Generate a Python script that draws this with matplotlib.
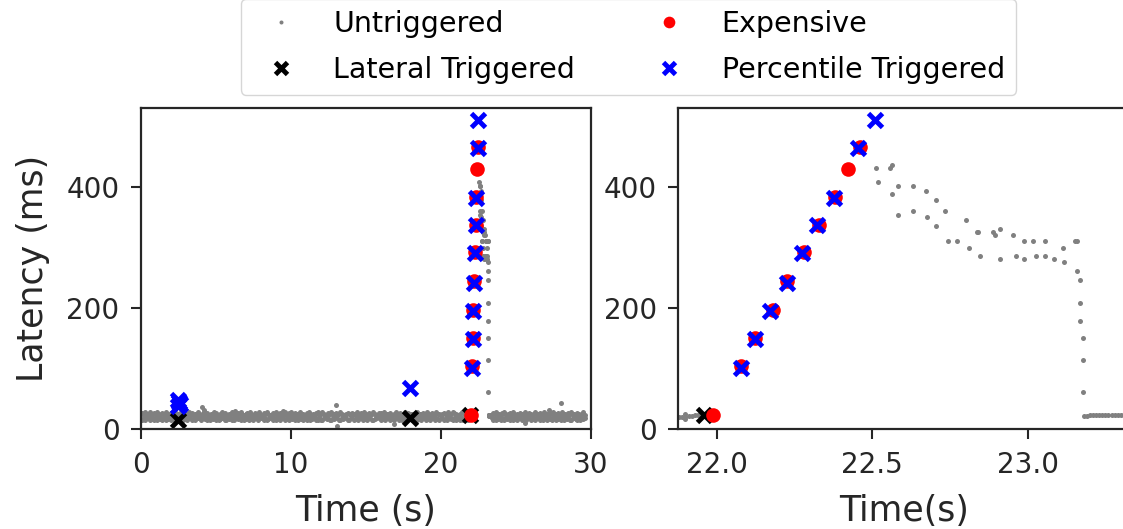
import numpy as np
import matplotlib
matplotlib.use("Agg")
import matplotlib.pyplot as plt

# ---------------- data ----------------
# dense baseline of untriggered requests before the spike (time s, latency ms):
# at every sample time one request in the lower and one in the upper part of the band
band1_t = [0.0, 0.1, 0.2, 0.3, 0.4, 0.5, 0.6, 0.7, 0.8, 0.9, 1.0, 1.1, 1.2, 1.3, 1.4, 1.5, 1.6, 1.7, 1.8, 1.9,
           2.0, 2.1, 2.2, 2.3, 2.4, 2.5, 2.6, 2.7, 2.8, 2.9, 3.0, 3.1, 3.2, 3.3, 3.4, 3.5, 3.6, 3.7, 3.8, 3.9,
           4.0, 4.1, 4.2, 4.3, 4.4, 4.5, 4.6, 4.7, 4.8, 4.9, 5.0, 5.1, 5.2, 5.3, 5.4, 5.5, 5.6, 5.7, 5.8, 5.9,
           6.0, 6.1, 6.2, 6.3, 6.4, 6.5, 6.6, 6.7, 6.8, 6.9, 7.0, 7.1, 7.2, 7.3, 7.4, 7.5, 7.6, 7.7, 7.8, 7.9,
           8.0, 8.1, 8.2, 8.3, 8.4, 8.5, 8.6, 8.7, 8.8, 8.9, 9.0, 9.1, 9.2, 9.3, 9.4, 9.5, 9.6, 9.7, 9.8, 9.9,
           10.0, 10.1, 10.2, 10.3, 10.4, 10.5, 10.6, 10.7, 10.8, 10.9, 11.0, 11.1, 11.2, 11.3, 11.4, 11.5, 11.6, 11.7, 11.8, 11.9,
           12.0, 12.1, 12.2, 12.3, 12.4, 12.5, 12.6, 12.7, 12.8, 12.9, 13.0, 13.1, 13.2, 13.3, 13.4, 13.5, 13.6, 13.7, 13.8, 13.9,
           14.0, 14.1, 14.2, 14.3, 14.4, 14.5, 14.6, 14.7, 14.8, 14.9, 15.0, 15.1, 15.2, 15.3, 15.4, 15.5, 15.6, 15.7, 15.8, 15.9,
           16.0, 16.1, 16.2, 16.3, 16.4, 16.5, 16.6, 16.7, 16.8, 16.9, 17.0, 17.1, 17.2, 17.3, 17.4, 17.5, 17.6, 17.7, 17.8, 17.9,
           18.0, 18.1, 18.2, 18.3, 18.4, 18.5, 18.6, 18.7, 18.8, 18.9, 19.0, 19.1, 19.2, 19.3, 19.4, 19.5, 19.6, 19.7, 19.8, 19.9,
           20.0, 20.1, 20.2, 20.3, 20.4, 20.5, 20.6, 20.7, 20.8, 20.9, 21.0, 21.1, 21.2, 21.3, 21.4, 21.5, 21.6, 21.7, 21.8, 21.9]
band1_lo = [17, 15, 19, 16, 18, 20, 15, 17, 19, 16, 18, 15, 20, 17, 16, 19, 18, 15, 17, 20,
            16, 19, 17, 15, 20, 18, 16, 19, 15, 17, 20, 16, 18, 19, 15, 17, 16, 20, 18, 19,
            15, 18, 20, 17, 16, 19, 15, 18, 17, 20, 16, 19, 15, 17, 18, 20, 16, 15, 19, 17,
            19, 16, 15, 18, 20, 17, 19, 16, 18, 15, 17, 20, 16, 19, 17, 15, 18, 20, 16, 18,
            18, 20, 16, 19, 15, 17, 18, 20, 16, 19, 15, 18, 17, 16, 20, 19, 15, 17, 18, 16,
            20, 17, 18, 15, 19, 16, 20, 17, 15, 18, 19, 16, 20, 15, 17, 18, 19, 16, 15, 20,
            16, 15, 19, 20, 17, 18, 16, 15, 19, 17, 20, 18, 15, 16, 19, 17, 20, 18, 16, 15,
            19, 18, 16, 17, 20, 15, 19, 18, 16, 20, 17, 15, 19, 18, 16, 15, 17, 19, 20, 18,
            15, 20, 17, 16, 18, 19, 15, 20, 17, 16, 18, 19, 16, 20, 15, 18, 17, 16, 19, 20,
            17, 16, 20, 18, 15, 19, 17, 16, 20, 18, 15, 17, 19, 16, 18, 20, 15, 19, 17, 16,
            18, 19, 15, 17, 16, 20, 18, 17, 15, 19, 16, 20, 17, 15, 18, 16, 19, 20, 15, 17]
band1_hi = [25, 27, 23, 28, 24, 26, 28, 23, 25, 27, 24, 28, 26, 23, 27, 25, 24, 28, 26, 23,
            27, 24, 26, 28, 23, 25, 27, 24, 28, 26, 23, 25, 28, 24, 27, 23, 26, 25, 28, 24,
            23, 26, 28, 25, 27, 24, 23, 26, 25, 28, 27, 23, 24, 26, 28, 25, 27, 23, 24, 26,
            26, 28, 24, 23, 25, 27, 26, 28, 23, 24, 26, 27, 25, 28, 24, 23, 27, 26, 25, 28,
            24, 23, 27, 26, 28, 25, 24, 23, 27, 26, 28, 24, 23, 27, 25, 26, 28, 24, 23, 27,
            28, 25, 23, 27, 26, 24, 28, 25, 26, 23, 24, 27, 28, 25, 23, 26, 24, 27, 28, 25,
            25, 28, 26, 24, 23, 27, 25, 28, 24, 26, 27, 23, 25, 28, 26, 24, 23, 25, 27, 26,
            23, 27, 25, 26, 28, 24, 23, 27, 25, 28, 26, 24, 27, 23, 25, 28, 26, 24, 23, 27,
            27, 24, 28, 23, 25, 26, 27, 24, 23, 25, 28, 26, 24, 27, 23, 25, 28, 26, 27, 24,
            26, 25, 24, 27, 28, 23, 26, 25, 27, 24, 23, 28, 26, 24, 27, 23, 25, 28, 26, 25,
            24, 26, 27, 25, 23, 28, 24, 26, 28, 27, 25, 23, 24, 26, 28, 27, 23, 25, 24, 26]
# densely sampled stretch just before the spike (right panel)
pre_t = [21.86, 21.87, 21.88, 21.89, 21.90, 21.91, 21.92, 21.93, 21.94, 21.95]
pre_y = [20, 20, 20, 21, 21, 22, 22, 23, 23, 23]
# untriggered points during the latency spike
spike_t = [22.512, 22.558, 22.565, 22.520, 22.584, 22.632, 22.565, 22.672, 22.705, 22.584,
           22.632, 22.678, 22.734, 22.705, 22.803, 22.745, 22.773, 22.836, 22.840, 22.890,
           22.895, 22.913, 22.953, 22.812, 22.848, 22.913, 22.964, 22.990, 22.990, 23.017,
           23.057, 23.028, 23.057, 23.084, 23.113, 23.116, 23.152, 23.158, 23.158, 23.169,
           23.169, 23.169, 23.177, 23.177, 23.177, 23.183]
spike_y = [431, 431, 437, 408, 402, 402, 388, 393, 378, 354,
           360, 351, 360, 336, 345, 311, 311, 325, 325, 325,
           321, 331, 321, 300, 286, 282, 286, 282, 311, 311,
           311, 286, 286, 282, 300, 276, 311, 311, 262, 247,
           208, 179, 150, 115, 62, 22]
# densely sampled stretch right after the spike (right panel)
post_t = [23.19, 23.20, 23.21, 23.22, 23.23, 23.24, 23.25, 23.26, 23.27, 23.28,
          23.29, 23.30, 23.31, 23.32, 23.33, 23.34]
post_y = [22, 23, 23, 23, 24, 23, 23, 24, 23, 23, 24, 23, 23, 23, 24, 23]
# baseline after the spike
band2_t = [23.4, 23.5, 23.6, 23.7, 23.8, 23.9, 24.0, 24.1, 24.2, 24.3, 24.4, 24.5, 24.6, 24.7, 24.8, 24.9,
           25.0, 25.1, 25.2, 25.3, 25.4, 25.5, 25.6, 25.7, 25.8, 25.9, 26.0, 26.1, 26.2, 26.3, 26.4, 26.5,
           26.6, 26.7, 26.8, 26.9, 27.0, 27.1, 27.2, 27.3, 27.4, 27.5, 27.6, 27.7, 27.8, 27.9, 28.0, 28.1,
           28.2, 28.3, 28.4, 28.5, 28.6, 28.7, 28.8, 28.9, 29.0, 29.1, 29.2, 29.3, 29.4, 29.5, 29.6]
band2_lo = [18, 16, 19, 15, 17, 20, 16, 18, 15, 19, 17, 20, 16, 18, 15, 19, 17, 16, 20, 18,
            15, 17, 19, 16, 20, 18, 15, 17, 19, 16, 18, 20, 15, 17, 16, 19, 18, 15, 20, 17,
            16, 19, 18, 15, 17, 20, 16, 19, 15, 18, 17, 20, 16, 15, 19, 18, 17, 16, 20, 15,
            18, 17, 19]
band2_hi = [24, 27, 25, 28, 23, 26, 24, 27, 28, 25, 23, 26, 27, 24, 28, 25, 23, 26, 24, 27,
            26, 23, 28, 25, 24, 27, 26, 23, 25, 28, 24, 26, 27, 23, 25, 28, 24, 26, 23, 27,
            25, 28, 24, 26, 27, 23, 25, 28, 24, 26, 23, 27, 25, 28, 24, 26, 23, 27, 25, 24,
            26, 28, 23]
# occasional outliers in the baseline
out_t = [4.1, 4.2, 13.0, 13.05, 16.9, 6.3, 9.5, 28.0, 25.6, 27.2]
out_y = [37, 32, 40, 6, 9, 31, 30, 43, 10, 32]

# triggered requests
lateral_t = [2.5, 17.95, 21.96]
lateral_y = [15, 18, 23]
expensive_t = [21.99, 22.08, 22.125, 22.18, 22.228, 22.282, 22.33, 22.38, 22.424, 22.462]
expensive_y = [23, 105, 150, 197, 245, 292, 338, 384, 430, 466]
percentile_t = [2.45, 2.55, 2.5, 2.6, 17.95, 22.077, 22.123, 22.173, 22.227, 22.275,
                22.323, 22.378, 22.456, 22.510]
percentile_y = [38, 45, 49, 41, 68, 102, 149, 195, 242, 291,
                337, 382, 464, 511]

untrig_t = band1_t + band1_t + pre_t + spike_t + post_t + band2_t + band2_t + out_t
untrig_y = band1_lo + band1_hi + pre_y + spike_y + post_y + band2_lo + band2_hi + out_y

labels = ['Untriggered', 'Lateral Triggered', 'Expensive', 'Percentile Triggered']

# ---------------- plot ----------------
W, H = 1123, 529
fig = plt.figure(figsize=(W / 100, H / 100), dpi=100)
axL = fig.add_axes([141 / W, 1 - 429.3 / H, (590.7 - 141) / W, 321 / H])
axR = fig.add_axes([678.3 / W, 1 - 429.3 / H, (1130 - 678.3) / W, 321 / H])

dark = '#262626'
handles = []
for ax in (axL, axR):
    hU, = ax.plot(untrig_t, untrig_y, ls='none', marker='o', ms=3.6, mew=0,
                  color='gray', zorder=1)
    hL, = ax.plot(lateral_t, lateral_y, ls='none', marker='x', ms=10.5, mew=3.5,
                  color='black', zorder=2)
    hE, = ax.plot(expensive_t, expensive_y, ls='none', marker='o', ms=10.5, mew=0,
                  color='red', zorder=3)
    hP, = ax.plot(percentile_t, percentile_y, ls='none', marker='x', ms=10.5, mew=3.5,
                  color='blue', zorder=4)
    if not handles:
        handles = [hU, hL, hE, hP]
    ax.set_ylim(0, 530)
    ax.set_yticks([0, 200, 400])
    for s in ax.spines.values():
        s.set_linewidth(1.6)
        s.set_color(dark)
    ax.tick_params(direction='out', length=7, width=1.5, pad=8.5, labelsize=20,
                   color=dark, labelcolor=dark)

axL.set_xlim(0, 30)
axL.set_xticks([0, 10, 20, 30])
axL.set_xlabel('Time (s)', fontsize=25, color=dark, labelpad=11)
axL.set_ylabel('Latency (ms)', fontsize=25, color=dark, labelpad=12)

axR.set_xlim(21.877, 21.877 + 451.7 / 311)
axR.set_xticks([22.0, 22.5, 23.0])
axR.set_xticklabels(['22.0', '22.5', '23.0'])
axR.set_xlabel('Time(s)', fontsize=25, color=dark, labelpad=11)

fig.legend(handles, labels,
           loc='upper center', bbox_to_anchor=(628.5 / W, 1.0 + 1.5 / H), ncol=2,
           borderaxespad=0, fontsize=20.5, markerscale=0.8, columnspacing=2.3,
           labelspacing=0.62, handlelength=2.0, handletextpad=0.85,
           frameon=True, edgecolor='#cccccc', fancybox=True, borderpad=0.4)

fig.savefig('out.png', dpi=100)
